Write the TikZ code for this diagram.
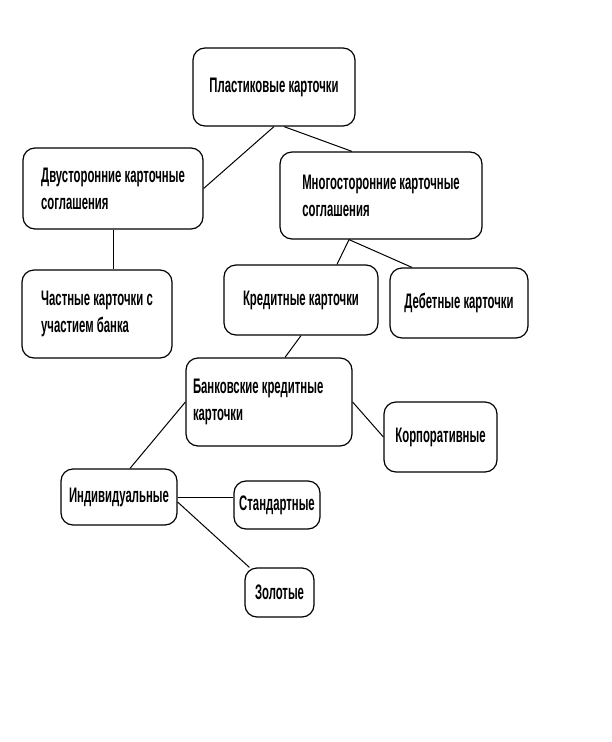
\documentclass[tikz,border=0pt]{standalone}
\usepackage{fontspec}
\usepackage{tikz}
\setmainfont{Liberation Sans}[FakeStretch=0.54]

\begin{document}
\begin{tikzpicture}[x=1pt,y=-1pt,
        box/.style={draw, line width=1.2pt, rounded corners=12pt, inner sep=0pt,
            font=\fontsize{21}{27}\selectfont\bfseries},
        link/.style={line width=1pt}]
        \useasboundingbox (0,0) rectangle (612,742);
        \node[box, minimum width=162pt, minimum height=78pt] (plast) at (274,87) {Пластиковые карточки};
        \node[box, minimum width=180pt, minimum height=81pt, align=left] (dvust) at (113,188.5) {Двусторонние карточные\\соглашения};
        \node[box, minimum width=202pt, minimum height=87pt, align=left] (mnog) at (381,195.5) {Многосторонние карточные\\соглашения};
        \node[box, minimum width=150pt, minimum height=88pt, align=left] (chast) at (97,314) {Частные карточки с\\участием банка};
        \node[box, minimum width=154pt, minimum height=70pt] (kred) at (301,300) {Кредитные карточки};
        \node[box, minimum width=138pt, minimum height=70pt] (debet) at (459,303) {Дебетные карточки};
        \node[box, minimum width=166pt, minimum height=88pt, text width=152pt, align=flush left] (bank) at (269,402) {Банковские кредитные\\карточки};
        \node[box, minimum width=113pt, minimum height=70pt] (korp) at (440.5,437) {Корпоративные};
        \node[box, minimum width=116pt, minimum height=56pt] (indiv) at (119,497) {Индивидуальные};
        \node[box, minimum width=86pt, minimum height=48pt] (stand) at (277,505) {Стандартные};
        \node[box, minimum width=69pt, minimum height=49pt] (zolot) at (279.5,592.5) {Золотые};
        \draw[link] (plast.south) -- (dvust.east);
        \draw[link] ([xshift=10pt]plast.south) -- ([xshift=-29pt]mnog.north);
        \draw[link] (dvust.south) -- (dvust.south |- chast.north);
        \draw[link] ([xshift=-32pt]mnog.south) -- ([xshift=36pt]kred.north);
        \draw[link] ([xshift=-32pt]mnog.south) -- ([xshift=-47pt]debet.north);
        \draw[link] (kred.south) -- ([xshift=16pt]bank.north);
        \draw[link] (bank.west) -- ([xshift=11pt]indiv.north);
        \draw[link] (bank.east) -- (korp.west);
        \draw[link] (indiv.east) -- (indiv.east -| stand.west);
        \draw[link] ([yshift=-5pt]indiv.east) -- ([xshift=5pt]zolot.north west);
    \end{tikzpicture}
\end{document}
